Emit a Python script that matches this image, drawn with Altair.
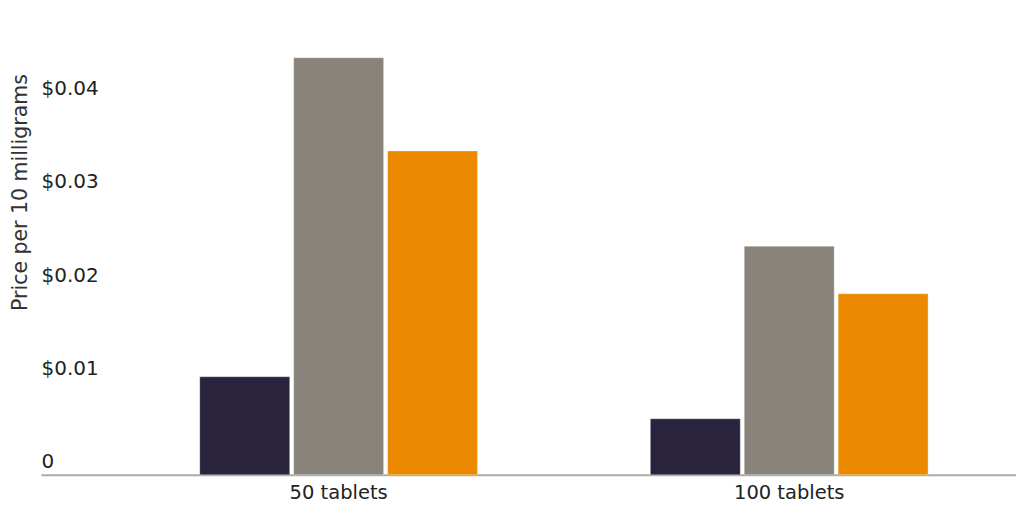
import altair as alt
import pandas as pd

# values
packs = ["50 tablets", "100 tablets"]
series = ["Generic", "Brand", "Store"]
generic = [0.0105, 0.0060]
brand = [0.0447, 0.0245]
store = [0.0347, 0.0194]

rows = []
for i, p in enumerate(packs):
    rows.append({"pack": p, "series": series[0], "price": generic[i]})
    rows.append({"pack": p, "series": series[1], "price": brand[i]})
    rows.append({"pack": p, "series": series[2], "price": store[i]})
df = pd.DataFrame(rows)

colors = ["#29233d", "#8a837c", "#eb8a00"]
font = "DejaVu Sans"

bars = alt.Chart(df).mark_bar(stroke="white", strokeWidth=1, strokeOpacity=0.3).encode(
    x=alt.X("pack:N", sort=packs,
            scale=alt.Scale(paddingInner=0.3836, paddingOuter=0.2738, align=0.6437),
            axis=alt.Axis(title=None, labelAngle=0, ticks=False, tickSize=0, grid=False,
                          domainColor="#aaaaaa", domainWidth=2, labelPadding=9,
                          labelFont=font, labelFontSize=19.5, labelColor="#222222")),
    xOffset=alt.XOffset("series:N", sort=series,
                        scale=alt.Scale(paddingInner=0.0426, paddingOuter=0)),
    y=alt.Y("price:Q", scale=alt.Scale(domain=[0, 0.05], nice=False),
            axis=alt.Axis(title="Price per 10 milligrams", values=[0, 0.01, 0.02, 0.03, 0.04],
                          labelExpr="datum.value == 0 ? '0' : '$' + format(datum.value, '.2f')",
                          ticks=False, tickSize=0, domain=False, grid=False,
                          labelAlign="left", labelPadding=0, labelBaseline="alphabetic",
                          labelOffset=-7, labelFlush=False, labelOverlap=False,
                          labelFont=font, labelFontSize=20, labelColor="#222222",
                          titleFont=font, titleFontSize=20.5, titleFontWeight="normal",
                          titleColor="#333333", titleX=-10, titleY=184,
                          titleAngle=270, titleBaseline="bottom", titleAlign="center")),
    color=alt.Color("series:N", sort=series,
                    scale=alt.Scale(domain=series, range=colors), legend=None),
).properties(
    width=976,
    height=467,
    padding={"left": 2, "top": 0, "right": 0, "bottom": 0},
).configure_view(stroke=None)

bars.save("out.html", embed_options={"renderer": "svg", "actions": False})
